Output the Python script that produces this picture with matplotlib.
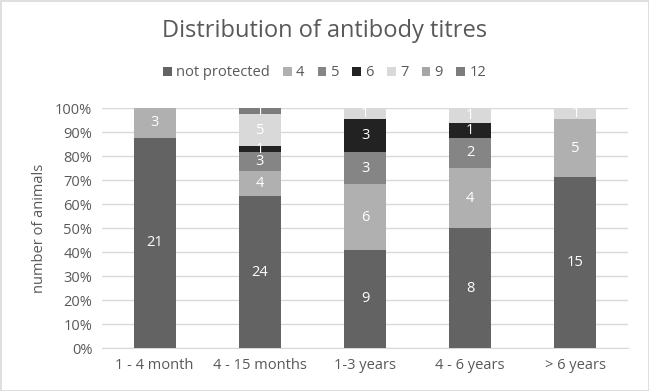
import numpy as np
import matplotlib.pyplot as plt
from matplotlib.ticker import PercentFormatter
from matplotlib.patches import Rectangle

plt.rcParams['font.family'] = ['Open Sans', 'DejaVu Sans']

# categories and counts per titre group
categories = ['1 - 4 month', '4 - 15 months', '1-3 years', '4 - 6 years', '> 6 years']
series = ['not protected', '4', '5', '6', '7', '9', '12']
counts = {
    'not protected': [21, 24, 9, 8, 15],
    '4':             [3, 4, 6, 4, 5],
    '5':             [0, 3, 3, 2, 0],
    '6':             [0, 1, 3, 1, 0],
    '7':             [0, 5, 1, 1, 1],
    '9':             [0, 0, 0, 0, 0],
    '12':            [0, 1, 0, 0, 0],
}
colors = ['#636363', '#B0B0B0', '#858585', '#222222', '#D9D9D9', '#A6A6A6', '#7C7C7C']

fig = plt.figure(figsize=(6.49, 3.91), dpi=100)
ax = fig.add_axes([102/649, 1 - 348/391, 526/649, 240/391])

totals = np.sum([counts[s] for s in series], axis=0)
x = np.arange(len(categories))
bottom = np.zeros(len(categories))
for s, c in zip(series, colors):
    vals = np.array(counts[s], dtype=float)
    share = vals / totals * 100
    ax.bar(x, share, bottom=bottom, width=0.4, color=c, label=s, zorder=3)
    for xi, v, b, sh in zip(x, vals, bottom, share):
        if v > 0:
            ax.text(xi, b + sh / 2, f'{int(v)}', ha='center', va='center',
                    color='white', fontsize=10.5, zorder=4)
    bottom += share

ax.set_xlim(-0.5, len(categories) - 0.5)
ax.set_ylim(0, 100)
ax.set_yticks(np.arange(0, 101, 10))
ax.yaxis.set_major_formatter(PercentFormatter(decimals=0))
ax.set_xticks(x)
ax.set_xticklabels(categories)
ax.grid(axis='y', color='#D9D9D9', linewidth=1, zorder=0)
for side in ['top', 'right', 'left']:
    ax.spines[side].set_visible(False)
ax.spines['bottom'].set_color('#D9D9D9')
ax.tick_params(length=0, labelsize=10.5, colors='#595959', pad=7)
ax.set_ylabel('number of animals', fontsize=10.5, color='#595959', labelpad=6)

fig.suptitle('Distribution of antibody titres', y=1 - 31/391, va='center',
             fontsize=17, color='#595959')
fig.legend(loc='center', bbox_to_anchor=(0.5, 1 - 73/391), ncol=7, frameon=False,
           fontsize=10.5, handlelength=0.6, handleheight=0.6, handletextpad=0.3,
           columnspacing=0.9, labelcolor='#595959')

fig.patches.append(Rectangle((0.5/649, 0.5/391), 1 - 1/649, 1 - 1/391, transform=fig.transFigure,
                             fill=False, edgecolor='#D9D9D9', linewidth=1.2))

fig.savefig('out.png', dpi=100)
